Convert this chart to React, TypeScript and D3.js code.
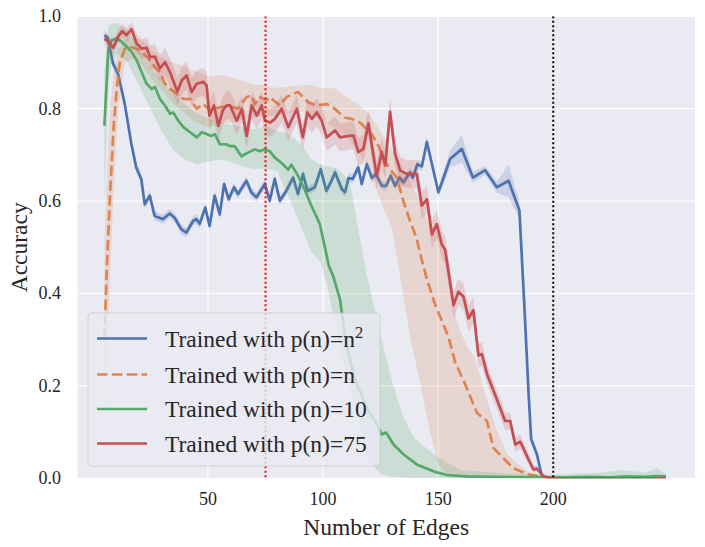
import * as d3 from 'd3';
import React from 'react';

// seaborn "deep" palette
const colors = ['#4C72B0', '#DD8452', '#55A868', '#C44E52'];

const xTicks = [50, 100, 150, 200];
const yTicks = [0, 0.2, 0.4, 0.6, 0.8, 1.0];
const refLines = [
  { x: 75, color: 'red' },
  { x: 200, color: 'black' },
];
const legendLabels = [
  { text: 'Trained with p(n)=n', sup: '2' },
  { text: 'Trained with p(n)=n', sup: '' },
  { text: 'Trained with p(n)=10', sup: '' },
  { text: 'Trained with p(n)=75', sup: '' },
];

// [edges, accuracy, ci half width]
const blueRun: [number, number, number][] = [
  [5, 0.959, 0.01], [6.5, 0.952, 0.01], [8.7, 0.898, 0.012], [10.9, 0.876, 0.012], [13.8, 0.811, 0.01],
  [16.7, 0.724, 0.01], [18.8, 0.673, 0.01], [21, 0.648, 0.01], [22.5, 0.593, 0.01], [24.7, 0.612, 0.01],
  [26.8, 0.568, 0.01], [30.4, 0.561, 0.01], [33.3, 0.573, 0.01], [35.5, 0.564, 0.01], [38.4, 0.539, 0.01],
  [40.6, 0.532, 0.01], [43.5, 0.557, 0.01], [44.9, 0.561, 0.01], [46.4, 0.551, 0.01], [48.8, 0.586, 0.01],
  [50.7, 0.546, 0.01], [52.9, 0.612, 0.01], [55.1, 0.571, 0.01], [57, 0.637, 0.01], [59, 0.604, 0.01],
  [61.3, 0.63, 0.01], [63, 0.615, 0.01], [66.7, 0.644, 0.01], [68.8, 0.619, 0.01], [71, 0.608, 0.01],
  [74.7, 0.637, 0.01], [76.8, 0.601, 0.01], [79, 0.648, 0.01], [81.2, 0.601, 0.01], [84, 0.622, 0.01],
  [87, 0.651, 0.01], [89.1, 0.615, 0.01], [91.3, 0.659, 0.01], [93.2, 0.622, 0.01], [96.4, 0.63, 0.01],
  [99, 0.669, 0.01], [101.4, 0.622, 0.01], [103.3, 0.64, 0.01], [105.2, 0.662, 0.01], [108.1, 0.626, 0.01],
  [109.6, 0.619, 0.01], [111, 0.65, 0.01], [112.9, 0.648, 0.01], [115.3, 0.673, 0.01], [116.8, 0.637, 0.01],
  [119, 0.68, 0.01], [121.2, 0.65, 0.01], [123, 0.659, 0.01], [125.5, 0.633, 0.01], [127.4, 0.633, 0.01],
  [129.4, 0.655, 0.01], [131.3, 0.633, 0.01], [133.2, 0.651, 0.01], [134.9, 0.641, 0.01], [137.8, 0.662, 0.01],
  [139, 0.651, 0.01], [141, 0.68, 0.01], [142.9, 0.675, 0.01], [145.1, 0.728, 0.012], [150.1, 0.619, 0.01],
  [155.2, 0.691, 0.018], [160.3, 0.713, 0.03], [165.1, 0.651, 0.012], [170.4, 0.667, 0.01], [175.5, 0.63, 0.012],
  [180.6, 0.644, 0.035], [185.3, 0.58, 0.02], [187.4, 0.379, 0.015], [189.3, 0.183, 0.012], [190.4, 0.085, 0.01],
  [192.9, 0.052, 0.008], [195.1, 0.004, 0.003], [200, 0, 0], [210, 0, 0], [220, 0, 0], [230, 0, 0],
  [240, 0, 0], [249, 0, 0],
];

const redRun: [number, number, number][] = [
  [5, 0.951, 0.012], [6.7, 0.945, 0.015], [8.8, 0.932, 0.015], [11, 0.956, 0.015], [12.7, 0.968, 0.015],
  [14.6, 0.959, 0.015], [16.8, 0.972, 0.015], [19, 0.941, 0.02], [21.2, 0.93, 0.02], [23.3, 0.932, 0.022],
  [24.8, 0.912, 0.025], [27, 0.912, 0.028], [29.1, 0.887, 0.03], [31.3, 0.901, 0.03], [33.5, 0.879, 0.03],
  [36.7, 0.837, 0.03], [38.6, 0.861, 0.03], [40.7, 0.872, 0.03], [42.9, 0.836, 0.03], [45.1, 0.854, 0.03],
  [48, 0.858, 0.03], [49.4, 0.85, 0.03], [50.6, 0.785, 0.03], [52.6, 0.807, 0.03], [54.5, 0.763, 0.03],
  [56.4, 0.796, 0.03], [58.1, 0.807, 0.03], [59.6, 0.807, 0.03], [62.5, 0.774, 0.03], [64.7, 0.8, 0.03],
  [66.8, 0.741, 0.03], [69, 0.807, 0.03], [71.2, 0.785, 0.03], [73.3, 0.807, 0.03], [74.8, 0.774, 0.03],
  [77, 0.77, 0.03], [79.1, 0.778, 0.03], [82, 0.8, 0.03], [84.9, 0.76, 0.03], [88.6, 0.8, 0.03],
  [91.2, 0.738, 0.03], [93.2, 0.792, 0.03], [95.1, 0.778, 0.03], [97.3, 0.792, 0.03], [99.4, 0.774, 0.03],
  [101.6, 0.738, 0.03], [105.2, 0.753, 0.03], [107.4, 0.738, 0.03], [111, 0.741, 0.03], [113.2, 0.742, 0.03],
  [115.3, 0.706, 0.03], [117.5, 0.713, 0.03], [119.7, 0.768, 0.03], [121.2, 0.72, 0.03], [123.3, 0.655, 0.03],
  [125.5, 0.706, 0.03], [127, 0.677, 0.03], [129.1, 0.793, 0.03], [131.3, 0.702, 0.03], [133.5, 0.666, 0.03],
  [136.4, 0.659, 0.03], [138.6, 0.659, 0.03], [140.7, 0.659, 0.03], [142.9, 0.59, 0.03], [145.1, 0.604, 0.03],
  [147.3, 0.528, 0.03], [149.4, 0.55, 0.03], [151.6, 0.506, 0.03], [153, 0.495, 0.03], [156.7, 0.375, 0.028],
  [158.8, 0.404, 0.028], [161, 0.393, 0.028], [163.2, 0.346, 0.028], [165.3, 0.364, 0.028], [167.5, 0.266, 0.025],
  [169, 0.269, 0.025], [171.2, 0.226, 0.022], [175.5, 0.171, 0.02], [179.1, 0.124, 0.02], [181.3, 0.124, 0.018],
  [183.5, 0.073, 0.015], [185.7, 0.079, 0.015], [188.6, 0.048, 0.012], [191.4, 0.019, 0.008], [192.9, 0.021, 0.006],
  [195.8, 0.004, 0.003], [200, 0, 0], [210, 0, 0], [220, 0, 0], [230, 0, 0], [240, 0, 0], [249, 0, 0],
];

// [edges, accuracy]
const orangeRun: [number, number][] = [
  [5, 0.3], [6, 0.45], [7.5, 0.62], [9, 0.76], [10.5, 0.85], [11.7, 0.901], [13.9, 0.93], [16.1, 0.934],
  [20.4, 0.927], [22.6, 0.916], [24.8, 0.905], [27, 0.89], [29.1, 0.879], [31.3, 0.854], [33.5, 0.843],
  [36.4, 0.832], [39.3, 0.821], [42.2, 0.821], [45.1, 0.8], [48, 0.81], [50.9, 0.796], [55.2, 0.803],
  [58.1, 0.805], [60, 0.804], [63.1, 0.8], [66.7, 0.825], [68.9, 0.829], [70.3, 0.81], [72.5, 0.825],
  [75.4, 0.818], [76.8, 0.825], [81.2, 0.807], [84.1, 0.825], [87, 0.832], [89.1, 0.836], [91.3, 0.825],
  [93.5, 0.814], [97.1, 0.807], [101.5, 0.81], [104.3, 0.803], [109.4, 0.781], [112.3, 0.778], [116, 0.77],
  [118.1, 0.76], [121.1, 0.745], [124, 0.72], [126.5, 0.69], [129, 0.67], [132, 0.651], [134.9, 0.6],
  [137.8, 0.557], [140.6, 0.52], [142.5, 0.48], [145, 0.433], [148, 0.386], [150.9, 0.349], [154.5, 0.306],
  [157.4, 0.251], [161.7, 0.204], [166.8, 0.142], [171.2, 0.124], [174, 0.066], [178.4, 0.043], [182.7, 0.022],
  [188.6, 0.009], [194.3, 0.004], [200, 0], [249, 0],
];

const greenRun: [number, number][] = [
  [5, 0.763], [6.7, 0.93], [8.1, 0.948], [10.3, 0.952], [12.5, 0.945], [14.7, 0.934], [16.8, 0.923], [19, 0.905],
  [21.2, 0.879], [23.3, 0.854], [25.5, 0.843], [27, 0.847], [29.1, 0.821], [31.3, 0.807], [33.5, 0.789],
  [34.9, 0.792], [37.1, 0.774], [39.3, 0.76], [42.2, 0.749], [45.1, 0.738], [47.3, 0.749], [49.4, 0.745],
  [51.4, 0.741], [53, 0.745], [55.2, 0.723], [57.9, 0.723], [59.4, 0.719], [61.6, 0.719], [64.5, 0.697],
  [67.4, 0.705], [70.3, 0.712], [72.5, 0.708], [74.7, 0.712], [76.8, 0.708], [79, 0.694], [81.9, 0.683],
  [84.8, 0.668], [86.2, 0.679], [89.1, 0.655], [92, 0.625], [94.9, 0.59], [97.1, 0.567], [98.6, 0.55],
  [100.8, 0.5], [102.5, 0.46], [104.5, 0.436], [107.4, 0.386], [109.6, 0.306], [111.7, 0.255], [114.6, 0.204],
  [119, 0.153], [123.3, 0.117], [125.5, 0.095], [127.4, 0.099], [130.6, 0.073], [134.9, 0.052], [140.7, 0.03],
  [148, 0.015], [153.8, 0.007], [162.5, 0.004], [175, 0.003], [190, 0.002], [205, 0.002], [215, 0.003],
  [225, 0.002], [232, 0.004], [240, 0.003], [245, 0.005], [249, 0.004],
];

// [edges, lower, upper] of the shaded ci
const orangeBand: [number, number, number][] = [
  [5, 0.12, 0.5], [6, 0.25, 0.65], [7.5, 0.45, 0.8], [9, 0.62, 0.88], [11, 0.8, 0.93], [14, 0.9, 0.95],
  [18, 0.91, 0.955], [22, 0.89, 0.946], [26, 0.86, 0.925], [30, 0.84, 0.91], [35, 0.81, 0.9], [40, 0.79, 0.89],
  [45, 0.77, 0.88], [50, 0.76, 0.87], [55, 0.765, 0.873], [60, 0.77, 0.868], [65, 0.775, 0.86], [70, 0.78, 0.853],
  [75, 0.785, 0.85], [80, 0.785, 0.845], [85, 0.79, 0.848], [90, 0.795, 0.851], [95, 0.785, 0.851],
  [100, 0.775, 0.844], [105, 0.76, 0.844], [110, 0.74, 0.826], [115, 0.71, 0.81], [120, 0.67, 0.79],
  [125, 0.6, 0.75], [130, 0.54, 0.71], [134, 0.42, 0.68], [138, 0.3, 0.64], [142, 0.21, 0.6], [146, 0.11, 0.55],
  [150, 0.03, 0.53], [154, 0.008, 0.49], [158, 0.003, 0.34], [162, 0, 0.29], [166, 0, 0.26], [170, 0, 0.19],
  [175, 0, 0.11], [180, 0, 0.052], [185, 0, 0.03], [190, 0, 0.012], [195, 0, 0.005], [200, 0, 0], [249, 0, 0],
];

const greenBand: [number, number, number][] = [
  [5, 0.6, 0.88], [6.7, 0.84, 0.975], [8, 0.9, 0.985], [11, 0.92, 0.985], [15, 0.9, 0.97], [20, 0.85, 0.93],
  [25, 0.8, 0.89], [30, 0.75, 0.86], [35, 0.71, 0.83], [40, 0.69, 0.81], [45, 0.68, 0.79], [50, 0.685, 0.78],
  [55, 0.69, 0.77], [60, 0.685, 0.765], [65, 0.675, 0.76], [70, 0.67, 0.755], [75, 0.67, 0.763], [80, 0.665, 0.752],
  [85, 0.61, 0.745], [90, 0.55, 0.725], [95, 0.49, 0.69], [98.7, 0.47, 0.68], [101.6, 0.42, 0.675],
  [104.5, 0.35, 0.672], [107.4, 0.28, 0.665], [111.7, 0.19, 0.64], [116, 0.117, 0.52], [119, 0.044, 0.44],
  [125, 0.008, 0.31], [130, 0.003, 0.21], [135, 0.002, 0.13], [140, 0, 0.085], [150, 0, 0.045], [160, 0, 0.018],
  [170, 0, 0.014], [180, 0, 0.01], [200, 0, 0.008], [220, 0, 0.012], [230, 0, 0.018], [240, 0, 0.012],
  [245, 0, 0.022], [249, 0, 0.01],
];

const plot = { left: 77.5, right: 695, top: 16.3, bottom: 478.3 };
const serif = "'Liberation Serif', 'Times New Roman', serif";
const ink = '#262626';

export default function App() {
  const x = d3.scaleLinear().domain([-6.7, 261.6]).range([plot.left, plot.right]);
  const y = d3.scaleLinear().domain([0, 1]).range([plot.bottom, plot.top]);

  const line = d3
    .line<number[]>()
    .x((d) => x(d[0]))
    .y((d) => y(d[1]));

  // ci from a half width
  const spreadArea = d3
    .area<number[]>()
    .x((d) => x(d[0]))
    .y0((d) => y(Math.max(0, d[1] - d[2])))
    .y1((d) => y(Math.min(1, d[1] + d[2])));

  // ci from explicit bounds
  const boundArea = d3
    .area<number[]>()
    .x((d) => x(d[0]))
    .y0((d) => y(d[1]))
    .y1((d) => y(d[2]));

  const series = [
    { band: spreadArea(blueRun), path: line(blueRun), color: colors[0], dash: undefined },
    { band: boundArea(orangeBand), path: line(orangeRun), color: colors[1], dash: '10.4,4.5' },
    { band: boundArea(greenBand), path: line(greenRun), color: colors[2], dash: undefined },
    { band: spreadArea(redRun), path: line(redRun), color: colors[3], dash: undefined },
  ];

  const lg = { x: 88, y: 313, w: 292, h: 153 };
  const rowY = [338.5, 374.5, 409, 443.5];

  return (
    <svg
      width={705}
      height={547}
      style={{ position: 'absolute', left: 0, top: 0, background: '#fff' }}
      fontFamily={serif}
    >
      <defs>
        <clipPath id="plot-clip">
          <rect x={plot.left} y={plot.top} width={plot.right - plot.left} height={plot.bottom - plot.top} />
        </clipPath>
      </defs>
      <rect
        x={plot.left}
        y={plot.top}
        width={plot.right - plot.left}
        height={plot.bottom - plot.top}
        fill="#EAEAF2"
      />
      {xTicks.map((t) => (
        <line key={'gx' + t} x1={x(t)} x2={x(t)} y1={plot.top} y2={plot.bottom} stroke="#fff" strokeWidth={1.2} />
      ))}
      {yTicks.map((t) => (
        <line key={'gy' + t} x1={plot.left} x2={plot.right} y1={y(t)} y2={y(t)} stroke="#fff" strokeWidth={1.2} />
      ))}

      <g clipPath="url(#plot-clip)">
        {series.map((s, i) => (
          <g key={i}>
            <path d={s.band ?? ''} fill={s.color} fillOpacity={0.2} stroke="none" />
            <path
              d={s.path ?? ''}
              fill="none"
              stroke={s.color}
              strokeWidth={2.7}
              strokeDasharray={s.dash}
              strokeLinejoin="round"
            />
          </g>
        ))}
        {refLines.map((r) => (
          <line
            key={r.x}
            x1={x(r.x)}
            x2={x(r.x)}
            y1={plot.top}
            y2={plot.bottom}
            stroke={r.color}
            strokeWidth={2}
            strokeDasharray="2,2.5"
          />
        ))}
      </g>

      {xTicks.map((t) => (
        <text key={'tx' + t} x={x(t)} y={505} textAnchor="middle" fontSize={18} fill={ink}>
          {t}
        </text>
      ))}
      {yTicks.map((t) => (
        <text key={'ty' + t} x={61} y={y(t)} dy="0.33em" textAnchor="end" fontSize={18} fill={ink}>
          {t.toFixed(1)}
        </text>
      ))}
      <text x={(plot.left + plot.right) / 2} y={535} textAnchor="middle" fontSize={23.5} fill={ink}>
        Number of Edges
      </text>
      <text
        transform={`translate(26.5, ${(plot.top + plot.bottom) / 2}) rotate(-90)`}
        textAnchor="middle"
        fontSize={23.5}
        fill={ink}
      >
        Accuracy
      </text>

      <rect
        x={lg.x}
        y={lg.y}
        width={lg.w}
        height={lg.h}
        rx={4}
        fill="#EAEAF2"
        fillOpacity={0.8}
        stroke="#cccccc"
        strokeOpacity={0.8}
      />
      {legendLabels.map((l, i) => (
        <g key={i}>
          <line
            x1={97}
            x2={147}
            y1={rowY[i]}
            y2={rowY[i]}
            stroke={colors[i]}
            strokeWidth={2.7}
            strokeDasharray={series[i].dash}
          />
          <text x={165} y={rowY[i] + 8.3} fontSize={23.5} fill={ink}>
            {l.text}
            {l.sup && (
              <tspan dy={-9} fontSize={16.5}>
                {l.sup}
              </tspan>
            )}
          </text>
        </g>
      ))}
    </svg>
  );
}
